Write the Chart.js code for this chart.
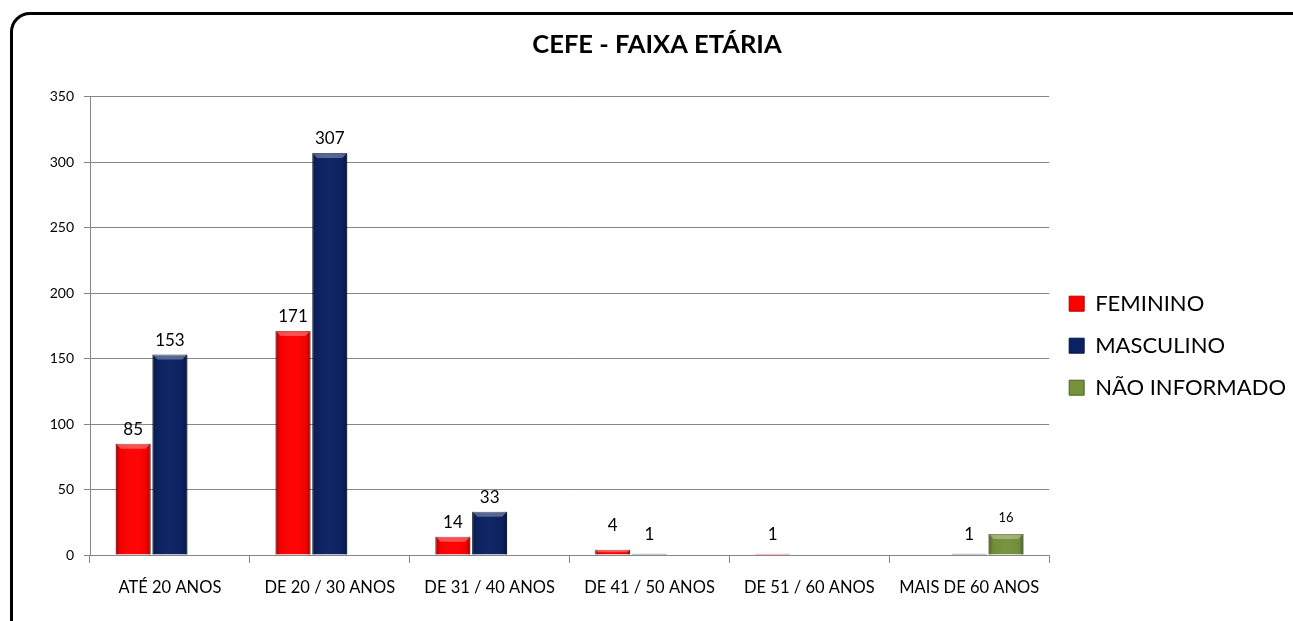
<!DOCTYPE html>
<html>
<head>
<meta charset="utf-8">
<script src="https://cdn.jsdelivr.net/npm/chart.js@4/dist/chart.umd.min.js"></script>
<style>
  html, body { margin: 0; padding: 0; background: #fff; }
  .frame {
    position: absolute; left: 10px; top: 12px;
    width: 1300px; height: 630px;
    border: 3px solid #000; border-radius: 20px;
    background: #fff;
  }
  .wrap { position: absolute; left: 0; top: 0; width: 1293px; height: 621px; }
</style>
</head>
<body>
<div class="frame"></div>
<div class="wrap"><canvas id="faixaChart"></canvas></div>
<script>
// Chart data
const categories = ['ATÉ 20 ANOS', 'DE 20 / 30 ANOS', 'DE 31 / 40 ANOS', 'DE 41 / 50 ANOS', 'DE 51 / 60 ANOS', 'MAIS DE 60 ANOS'];
const feminino = [85, 171, 14, 4, 1, null];
const masculino = [153, 307, 33, 1, null, 1];
const naoInformado = [null, null, null, null, null, 16];
const yTicks = [0, 50, 100, 150, 200, 250, 300, 350];

const FONT = 'Lato, "Open Sans", sans-serif';

// Bevel-ish shading on top of each bar, like the Excel original
const bevelPlugin = {
  id: 'bevel',
  afterDatasetsDraw(chart) {
    const c = chart.ctx;
    chart.data.datasets.forEach((ds, i) => {
      chart.getDatasetMeta(i).data.forEach((bar, j) => {
        if (ds.data[j] == null) return;
        const left = bar.x - bar.width / 2;
        const right = bar.x + bar.width / 2;
        const top = bar.y;
        const h = bar.base - bar.y;
        if (h < 3) return;
        const g = c.createLinearGradient(left, 0, right, 0);
        g.addColorStop(0, 'rgba(0,0,0,0.35)');
        g.addColorStop(0.12, 'rgba(0,0,0,0.05)');
        g.addColorStop(0.5, 'rgba(255,255,255,0.02)');
        g.addColorStop(0.88, 'rgba(0,0,0,0.05)');
        g.addColorStop(1, 'rgba(0,0,0,0.4)');
        c.save();
        c.fillStyle = g;
        c.fillRect(left, top, right - left, h);
        // top bevel highlight
        const b = Math.min(5, h / 2);
        c.fillStyle = 'rgba(255,255,255,0.3)';
        c.beginPath();
        c.moveTo(left, top);
        c.lineTo(right, top);
        c.lineTo(right - b, top + b);
        c.lineTo(left + b, top + b);
        c.closePath();
        c.fill();
        c.restore();
      });
    });
  }
};

// Value labels above the bars
const valueLabels = {
  id: 'valueLabels',
  afterDatasetsDraw(chart) {
    const c = chart.ctx;
    c.save();
    c.fillStyle = '#000';
    c.textAlign = 'center';
    c.textBaseline = 'bottom';
    chart.data.datasets.forEach((ds, i) => {
      c.font = (i === 2 ? '13px ' : '17px ') + FONT;
      chart.getDatasetMeta(i).data.forEach((bar, j) => {
        const v = ds.data[j];
        if (v == null) return;
        let off = 6;
        if (v < 10) off = 11;
        if (v === 4) off = 16;
        if (i === 2) off = 10;
        c.fillText(String(v), bar.x, bar.y - off);
      });
    });
    c.restore();
  }
};

const ctx = document.getElementById('faixaChart').getContext('2d');
const chart = new Chart(ctx, {
  type: 'bar',
  data: {
    labels: categories,
    datasets: [
      { label: 'FEMININO', data: feminino, backgroundColor: '#ff0000', borderColor: '#b00000', borderWidth: 1 },
      { label: 'MASCULINO', data: masculino, backgroundColor: '#0b2262', borderColor: '#061540', borderWidth: 1 },
      { label: 'NÃO INFORMADO', data: naoInformado, backgroundColor: '#76923c', borderColor: '#4b6125', borderWidth: 1 }
    ]
  },
  options: {
    responsive: true,
    maintainAspectRatio: false,
    animation: false,
    categoryPercentage: 0.69,
    barPercentage: 0.95,
    layout: { padding: { left: 18, right: -3, top: 0, bottom: 0 } },
    scales: {
      x: {
        grid: { display: true, drawOnChartArea: false, color: '#868686', tickLength: 8, offset: true },
        border: { color: '#868686' },
        ticks: { color: '#000', font: { family: FONT, size: 16.5 }, padding: 15, maxRotation: 0 },
        afterFit: s => { s.height = 66; }
      },
      y: {
        min: 0,
        max: 350,
        afterBuildTicks: s => { s.ticks = yTicks.map(v => ({ value: v })); },
        grid: { color: '#868686', tickLength: 6 },
        border: { color: '#868686' },
        ticks: { color: '#000', font: { family: FONT, size: 14 }, padding: 10 },
        afterFit: s => { s.width = 72; }
      }
    },
    plugins: {
      title: {
        display: true,
        text: 'CEFE - FAIXA ETÁRIA',
        color: '#000',
        font: { family: FONT, size: 25.5, weight: 'bold' },
        padding: { top: 29, bottom: 37 }
      },
      legend: {
        display: true,
        position: 'right',
        title: { display: true, text: ' ', font: { size: 22 }, padding: { top: 22, bottom: 22 } },
        labels: {
          color: '#000',
          font: { family: FONT, size: 22 },
          boxWidth: 15,
          boxHeight: 15,
          padding: 20
        }
      },
      tooltip: { enabled: false }
    }
  },
  plugins: [bevelPlugin, valueLabels]
});
</script>
</body>
</html>
